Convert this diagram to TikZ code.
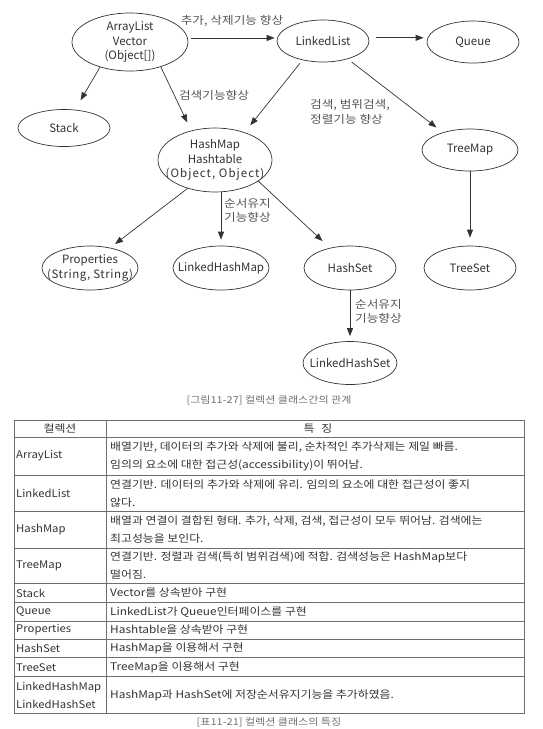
\documentclass[tikz,border=0pt]{standalone}
\usepackage{fontspec}
\setmainfont{Noto Sans CJK KR}
\newfontfamily\tabfont[FakeStretch=1.13]{Noto Sans CJK KR}
\newfontfamily\colfont[FakeStretch=1.08]{Noto Sans CJK KR}
\newfontfamily\labfont[FakeStretch=1.15]{Noto Sans CJK KR}
\newfontfamily\capfont[FakeStretch=1.16]{Noto Sans CJK KR}
\newfontfamily\objfont[LetterSpace=9]{Noto Sans CJK KR}
\newfontfamily\strfont[LetterSpace=5]{Noto Sans CJK KR}
\usetikzlibrary{shapes.geometric,arrows.meta}
\definecolor{ink}{HTML}{333333}
\definecolor{lbl}{HTML}{555555}
\definecolor{rulec}{HTML}{6E6E6E}
\definecolor{capc}{HTML}{707070}
\begin{document}
\begin{tikzpicture}[x=1pt,y=-1pt,
  ell/.style={ellipse, draw=ink, line width=0.7pt, fill=white, inner sep=0pt},
  etxt/.style={text=ink, font=\fontsize{11.5}{14.5}\selectfont, align=center, inner sep=0pt},
  conn/.style={draw=ink, line width=0.7pt, -{Triangle[length=8pt,width=6pt]}},
  lab/.style={text=lbl, font=\labfont\fontsize{11}{14.5}\selectfont, align=left, inner sep=0pt},
  captxt/.style={text=capc, font=\capfont\fontsize{9.5}{10}\selectfont, inner sep=0pt},
  cell/.style={text=ink, font=\tabfont\fontsize{10.5}{18}\selectfont, align=left, inner sep=0pt, anchor=west},
  kcell/.style={text=ink, font=\colfont\fontsize{10.5}{18}\selectfont, align=left, inner sep=0pt, anchor=west},
  hcell/.style={text=ink, font=\tabfont\fontsize{10.5}{18}\selectfont, inner sep=0pt},
  rul/.style={draw=rulec, line width=0.8pt}
]
\useasboundingbox (0,0) rectangle (543,729);

% ---- nodes ----
\node[ell, minimum width=116pt, minimum height=58pt] (al) at (130,42) {};
\node[etxt] (alt) at (al) {ArrayList\\Vector\\(Object[])};
\node[ell, minimum width=92pt, minimum height=42pt] (ll) at (323,41) {};
\node[etxt] (llt) at (ll) {LinkedList};
\node[ell, minimum width=92pt, minimum height=42pt] (q) at (473,42) {};
\node[etxt] (qt) at (q) {Queue};
\node[ell, minimum width=92pt, minimum height=37pt] (st) at (64,128) {};
\node[etxt] (stt) at (st) {Stack};
\node[ell, minimum width=114pt, minimum height=64pt] (hm) at (215,160) {};
\node[etxt] (hmt) at (hm) {HashMap\\Hashtable\\{\objfont(Object, Object)}};
\node[ell, minimum width=96pt, minimum height=42pt] (tm) at (470,150) {};
\node[etxt] (tmt) at (tm) {TreeMap};
\node[ell, minimum width=96pt, minimum height=44pt] (pr) at (90,268) {};
\node[etxt] (prt) at (pr) {Properties\\{\strfont(String, String)}};
\node[ell, minimum width=96pt, minimum height=44pt] (lhm) at (221,268) {};
\node[etxt] (lhmt) at (lhm) {LinkedHashMap};
\node[ell, minimum width=92pt, minimum height=44pt] (hs) at (350,268) {};
\node[etxt] (hst) at (hs) {HashSet};
\node[ell, minimum width=92pt, minimum height=44pt] (ts) at (470,268) {};
\node[etxt] (tst) at (ts) {TreeSet};
\node[ell, minimum width=94pt, minimum height=43pt] (lhs) at (350,363) {};
\node[etxt] (lhst) at (lhs) {LinkedHashSet};

% ---- connectors ----
\draw[conn, shorten <=3pt, shorten >=2pt] (al.4) -- (al.4 -| ll.west);
\draw[conn, shorten <=7pt, shorten >=3pt] (ll.4) -- (ll.4 -| q.west);
\draw[conn, shorten >=11pt] (al.-140) -- (st.59);
\draw[conn, shorten >=9pt] (al.-39) -- (hm.129);
\draw[conn, shorten <=4pt, shorten >=9pt] (ll.-137) -- (hm.43);
\draw[conn, shorten <=5pt, shorten >=8pt] (ll.-36) -- (tm.147);
\draw[conn, shorten >=8pt] (tm.south) -- (ts.north);
\draw[conn, shorten >=6pt] (hm.-134) -- (pr.45);
\draw[conn, shorten >=6pt] (lhm.north |- hm.south) -- (lhm.north);
\draw[conn, shorten >=10pt] (hm.-26) -- (hs.135);
\draw[conn, shorten >=5pt] (hs.south) -- (lhs.north);

% ---- labels ----
\node[lab] (l1) at (232,21) {추가, 삭제기능 향상};
\node[lab] (l2) at (214,95) {검색기능향상};
\node[lab, anchor=west] (l3) at (310,112) {검색, 범위검색,\\정렬기능 향상};
\node[lab, anchor=west] (l4) at (224,210.5) {순서유지\\기능향상};
\node[lab, anchor=west] (l5) at (355,311.5) {순서유지\\기능향상};

\node[captxt] (c1) at (269,400) {[그림11-27] 컬렉션 클래스간의 관계};

% ---- table ----
\draw[rul] (14,420) rectangle (524,713.3);
\foreach \yy in {437.5,475,511.7,548.3,583.3,602.3,621,639,657.7,676.7}
  \draw[rul, line width=0.6pt] (14,\yy) -- (524,\yy);
\draw[rul, line width=0.6pt] (106,420) -- (106,713.3);

\node[hcell] (h1) at (60,428.7) {컬렉션};
\node[hcell] (h2) at (318,428.7) {특\hspace{7pt}징};

\node[kcell] (a1) at (16,456) {ArrayList};
\node[cell] (a2) at (110,456.5) {배열기반, 데이터의 추가와 삭제에 불리, 순차적인 추가삭제는 제일 빠름.\\임의의 요소에 대한 접근성(accessibility)이 뛰어남.};
\node[kcell] (b1) at (16,493) {LinkedList};
\node[cell] (b2) at (110,493.3) {연결기반. 데이터의 추가와 삭제에 유리. 임의의 요소에 대한 접근성이 좋지\\않다.};
\node[kcell] (d1) at (16,530) {HashMap};
\node[cell] (d2) at (110,530) {배열과 연결이 결합된 형태. 추가, 삭제, 검색, 접근성이 모두 뛰어남. 검색에는\\최고성능을 보인다.};
\node[kcell] (e1) at (16,566) {TreeMap};
\node[cell] (e2) at (110,566) {연결기반. 정렬과 검색(특히 범위검색)에 적합. 검색성능은 HashMap보다\\떨어짐.};
\node[kcell] (f1) at (16,593) {Stack};
\node[cell] (f2) at (110,593) {Vector를 상속받아 구현};
\node[kcell] (g1) at (16,611.7) {Queue};
\node[cell] (g2) at (110,611.7) {LinkedList가 Queue인터페이스를 구현};
\node[kcell] (i1) at (16,630) {Properties};
\node[cell] (i2) at (110,630) {Hashtable을 상속받아 구현};
\node[kcell] (j1) at (16,648.3) {HashSet};
\node[cell] (j2) at (110,648.3) {HashMap을 이용해서 구현};
\node[kcell] (k1) at (16,667.2) {TreeSet};
\node[cell] (k2) at (110,667.2) {TreeMap을 이용해서 구현};
\node[kcell] (m1) at (16,695) {LinkedHashMap\\LinkedHashSet};
\node[cell] (m2) at (110,695) {HashMap과 HashSet에 저장순서유지기능을 추가하였음.};

\node[captxt] (c2) at (269,722) {[표11-21] 컬렉션 클래스의 특징};
\end{tikzpicture}
\end{document}
